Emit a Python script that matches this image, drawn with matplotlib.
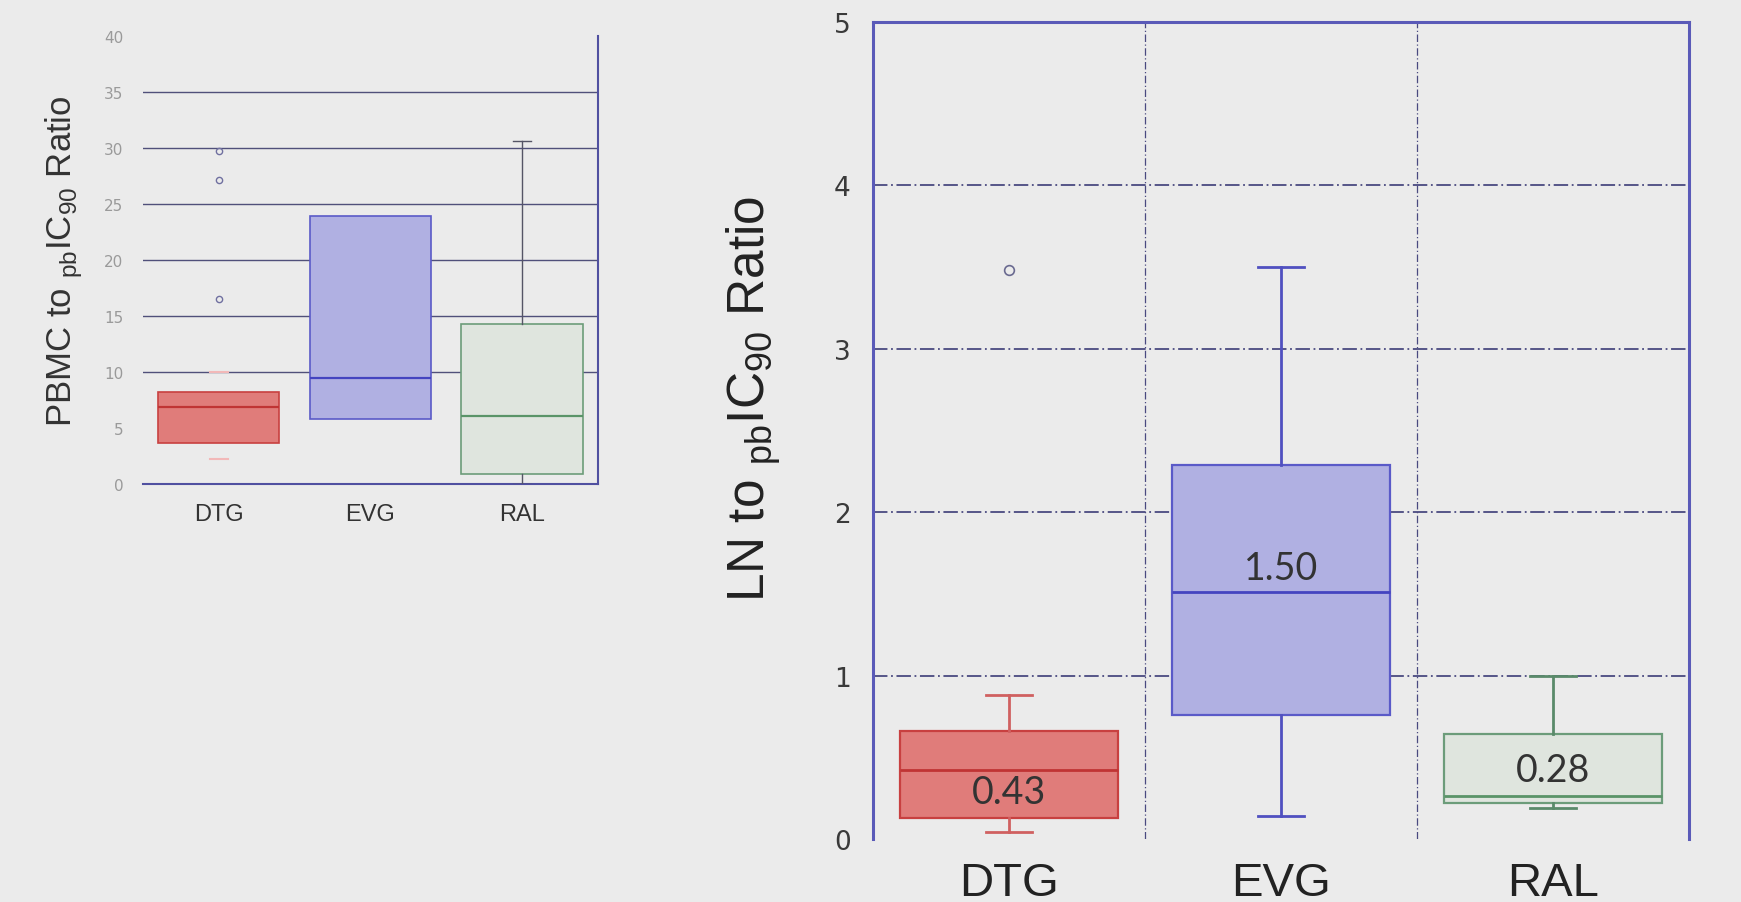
import matplotlib
matplotlib.use("Agg")
import matplotlib.pyplot as plt

categories = ["DTG", "EVG", "RAL"]

# Left panel: PBMC to pbIC90 ratio
pbmc_q1 = [3.7, 5.8, 0.9]
pbmc_med = [6.9, 9.5, 6.1]
pbmc_q3 = [8.2, 23.9, 14.3]
pbmc_lo = [2.2, 5.8, 0.0]
pbmc_hi = [10.0, 23.9, 30.6]
pbmc_fliers = [[16.5, 27.1, 29.7], [], []]
pbmc_yticks = [0, 5, 10, 15, 20, 25, 30, 35, 40]

# Right panel: LN to pbIC90 ratio
ln_q1 = [0.13, 0.76, 0.22]
ln_med = [0.42, 1.51, 0.26]
ln_q3 = [0.66, 2.29, 0.64]
ln_lo = [0.04, 0.14, 0.19]
ln_hi = [0.88, 3.50, 1.00]
ln_fliers = [[3.48], [], []]
ln_labels = ["0.43", "1.50", "0.28"]
ln_label_y = [0.29, 1.66, 0.42]
ln_yticks = [0, 1, 2, 3, 4, 5]

bg = "#ebebeb"
fills = ["#e07c7a", "#b0b0e2", "#dfe5de"]
edges = ["#c84040", "#5a5ac8", "#6c9c7a"]
meds = ["#c03434", "#4444c0", "#5a9468"]
whisk_left = ["#f2b8b8", "#b0b0e2", "#555566"]
cap_left_w = [1.5, 0, 1.0]
whisk_right = ["#d06060", "#5050c0", "#5a8a6a"]
axis_blue = "#5a5ab8"

fig = plt.figure(figsize=(17.41, 9.03), dpi=100, facecolor=bg)


def make_stats(q1, med, q3, lo, hi, fl):
    return [dict(q1=a, med=b, q3=c, whislo=d, whishi=e, fliers=f, label=n)
            for a, b, c, d, e, f, n in zip(q1, med, q3, lo, hi, fl, categories)]


# ---------------- Left panel ----------------
axL = fig.add_axes([0.0821, 0.4629, 0.2613, 0.4961])
axL.set_facecolor(bg)
statsL = make_stats(pbmc_q1, pbmc_med, pbmc_q3, pbmc_lo, pbmc_hi, pbmc_fliers)
for i, st in enumerate(statsL):
    axL.bxp([st], positions=[i + 1], widths=0.8, patch_artist=True,
            boxprops=dict(facecolor=fills[i], edgecolor=edges[i], linewidth=1.2),
            medianprops=dict(color=meds[i], linewidth=1.6),
            whiskerprops=dict(color=whisk_left[i], linewidth=1.0 if i == 2 else 0),
            capprops=dict(color=whisk_left[i], linewidth=cap_left_w[i]),
            capwidths=0.12,
            flierprops=dict(marker="o", markersize=4.5, markerfacecolor="none",
                            markeredgecolor="#7070a0", markeredgewidth=1.0),
            zorder=3)
axL.set_xlim(0.5, 3.5)
axL.set_ylim(0, 40)
axL.set_yticks(pbmc_yticks)
for y in pbmc_yticks[2:-1]:
    axL.axhline(y, color="#50507a", linewidth=1.0, zorder=1)
axL.set_xticks([1, 2, 3])
axL.set_xticklabels(categories, fontsize=17, color="#333333",
                    family="Liberation Sans")
axL.tick_params(axis="y", length=0, labelsize=11, labelcolor="#9a9a9a", pad=14)
axL.tick_params(axis="x", length=0, pad=14)
for s in ["left", "top"]:
    axL.spines[s].set_visible(False)
axL.spines["bottom"].set_color("#5050a0")
axL.spines["bottom"].set_linewidth(1.5)
axL.spines["right"].set_color("#5050a0")
axL.spines["right"].set_linewidth(1.5)
axL.spines["right"].set_bounds(0, 40)
axL.set_ylabel(r"PBMC to $_{\mathregular{pb}}$IC$_{\mathregular{90}}$ Ratio",
               fontsize=25, color="#333333", family="Liberation Sans", labelpad=14)

# ---------------- Right panel ----------------
axR = fig.add_axes([0.5014, 0.0698, 0.4687, 0.9048])
axR.set_facecolor(bg)
statsR = make_stats(ln_q1, ln_med, ln_q3, ln_lo, ln_hi, ln_fliers)
for i, st in enumerate(statsR):
    axR.bxp([st], positions=[i + 1], widths=0.8, patch_artist=True,
            boxprops=dict(facecolor=fills[i], edgecolor=edges[i], linewidth=1.6),
            medianprops=dict(color=meds[i], linewidth=2.0),
            whiskerprops=dict(color=whisk_right[i], linewidth=2.0),
            capprops=dict(color=whisk_right[i], linewidth=2.0),
            capwidths=0.17,
            flierprops=dict(marker="o", markersize=7, markerfacecolor="none",
                            markeredgecolor="#6a6a90", markeredgewidth=1.2),
            zorder=3)
for i, (t, y) in enumerate(zip(ln_labels, ln_label_y)):
    axR.text(i + 1, y, t, ha="center", va="center", fontsize=27,
             color="#333333", family="Lato", zorder=4)
axR.set_xlim(0.5, 3.5)
axR.set_ylim(0, 5)
axR.set_yticks(ln_yticks)
for y in ln_yticks[1:-1]:
    axR.axhline(y, color="#4a4a80", linewidth=1.3, linestyle=(0, (8, 2, 1, 2)),
                zorder=1)
for x in [1.5, 2.5]:
    axR.axvline(x, color="#4a4a80", linewidth=0.9, linestyle=(0, (6, 2, 1, 2)),
                zorder=1)
axR.set_xticks([1, 2, 3])
axR.set_xticklabels(categories, fontsize=34, color="#222222",
                    family="Liberation Sans")
axR.tick_params(axis="x", length=0, pad=16)
axR.tick_params(axis="y", length=0, labelsize=19, labelcolor="#3a3a3a", pad=16)
axR.spines["bottom"].set_visible(False)
for s in ["left", "right", "top"]:
    axR.spines[s].set_color(axis_blue)
    axR.spines[s].set_linewidth(2.2)
axR.set_ylabel(r"LN to $_{\mathregular{pb}}$IC$_{\mathregular{90}}$ Ratio",
               fontsize=37, color="#222222", family="Liberation Sans")
axR.yaxis.set_label_coords(-0.11, 0.54)

fig.savefig("out.png", dpi=100, facecolor=bg)
